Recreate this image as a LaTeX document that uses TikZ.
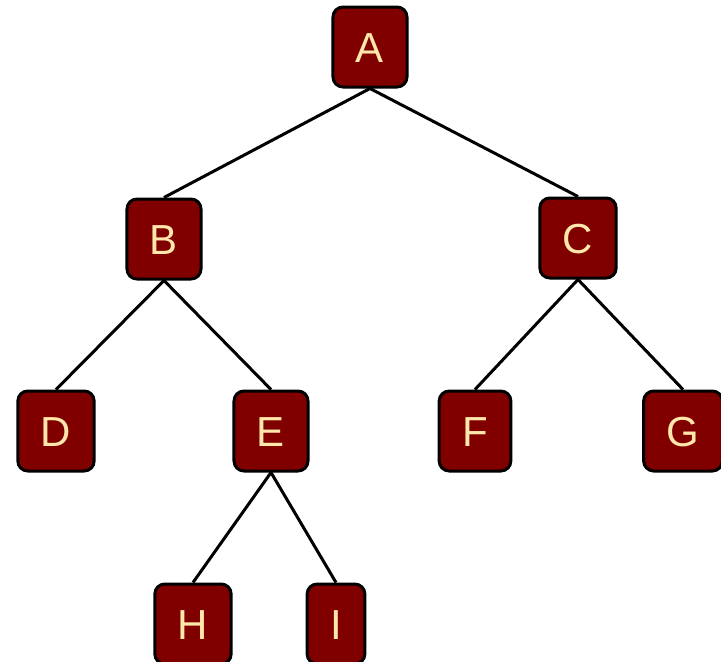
\documentclass[tikz,border=0pt]{standalone}
\usepackage{fontspec}
\setmainfont{Liberation Sans}
\definecolor{boxfill}{RGB}{128,0,0}
\definecolor{boxtext}{RGB}{255,230,170}
\begin{document}
\begin{tikzpicture}[x=1pt,y=-1pt,
  tnode/.style={draw=black, line width=3pt, fill=boxfill, rounded corners=10pt,
    text=boxtext, font=\fontsize{42}{42}\selectfont, inner xsep=23pt, inner ysep=0pt,
    minimum height=80pt, text height=30pt, text depth=0pt},
  edge/.style={draw=black, line width=3pt}]
\useasboundingbox (0,0) rectangle (721,662);
\node[tnode] (A) at (370,47) {A};
\node[tnode] (B) at (164,239) {B};
\node[tnode] (C) at (578,238) {C};
\node[tnode] (D) at (56,431) {D};
\node[tnode] (E) at (271,431) {E};
\node[tnode] (F) at (475,431) {F};
\node[tnode] (G) at (683,431) {G};
\node[tnode] (H) at (193,624) {H};
\node[tnode] (I) at (336,624) {I};
\begin{scope}[on background layer/.style={}]
\end{scope}
\path[edge] (A.south) -- (B.north);
\path[edge] (A.south) -- (C.north);
\path[edge] (B.south) -- (D.north);
\path[edge] (B.south) -- (E.north);
\path[edge] (C.south) -- (F.north);
\path[edge] (C.south) -- (G.north);
\path[edge] (E.south) -- (H.north);
\path[edge] (E.south) -- (I.north);
\end{tikzpicture}
\end{document}
